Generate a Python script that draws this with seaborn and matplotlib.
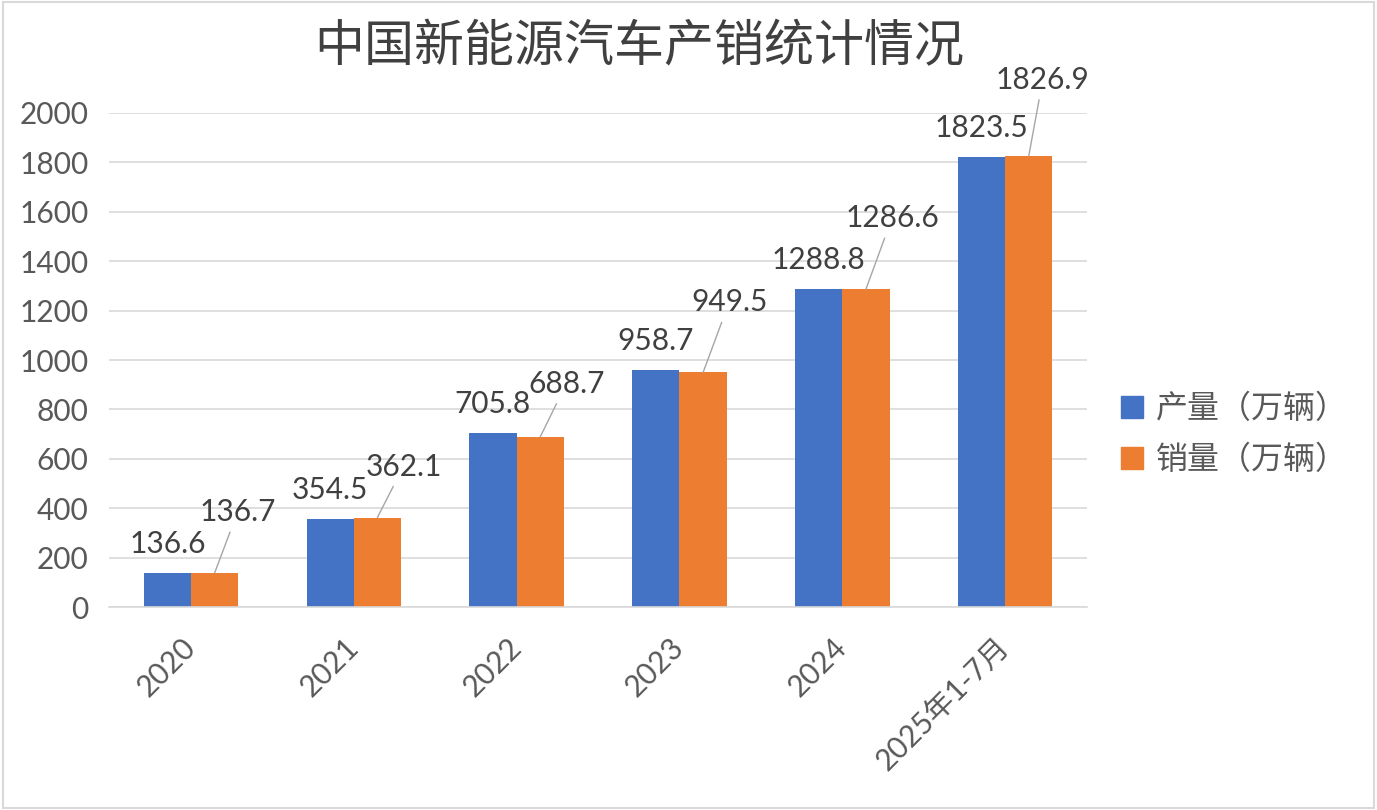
import numpy as np
import pandas as pd
import matplotlib
matplotlib.use("Agg")
import matplotlib.pyplot as plt
import seaborn as sns
from matplotlib.patches import Rectangle

# data
years = ["2020", "2021", "2022", "2023", "2024", "2025年1-7月"]
production = [136.6, 354.5, 705.8, 958.7, 1288.8, 1823.5]
sales = [136.7, 362.1, 688.7, 949.5, 1286.6, 1826.9]
series_names = ["产量（万辆）", "销量（万辆）"]
title = "中国新能源汽车产销统计情况"

# label offsets for the sales labels (pixels, right / up)
sales_offsets = [(23, 61), (26, 51), (26, 53), (26, 70), (26, 71), (14, 76)]

df = pd.DataFrame({
    "year": years * 2,
    "value": production + sales,
    "series": [series_names[0]] * len(years) + [series_names[1]] * len(years),
})

sns.set_style("white")
plt.rcParams['font.family'] = ['Lato', 'Noto Sans CJK SC', 'DejaVu Sans']

fig = plt.figure(figsize=(13.77, 8.10), dpi=100)
ax = fig.add_axes([0.0795, 0.2506, 0.7096, 0.6099])

sns.barplot(data=df, x="year", y="value", hue="series", hue_order=series_names,
            palette=["#4472C4", "#ED7D31"], width=0.58, gap=0, saturation=1,
            linewidth=0, ax=ax)

ax.set_ylim(0, 2000)
ax.set_yticks(np.arange(0, 2001, 200))
ax.yaxis.grid(True, color="#d9d9d9", lw=1.2)
ax.set_axisbelow(True)
for s in ["top", "right", "left"]:
    ax.spines[s].set_visible(False)
ax.spines["bottom"].set_color("#d9d9d9")
ax.spines["bottom"].set_linewidth(1.2)
ax.tick_params(axis="both", length=0, colors="#595959", labelsize=21.5)
ax.tick_params(axis="y", pad=15)
ax.tick_params(axis="x", pad=26)
ax.set_xlabel("")
ax.set_ylabel("")
for lab in ax.get_xticklabels():
    lab.set_rotation(45)
    lab.set_ha("right")
    lab.set_va("center")
    lab.set_rotation_mode("anchor")

pt = 72 / 100  # pixel -> point
bars_p, bars_s = ax.containers[0], ax.containers[1]
for bar, v in zip(bars_p, production):
    ax.annotate(f"{v:.1f}", (bar.get_x() + bar.get_width() / 2, bar.get_height()),
                xytext=(0, 29 * pt), textcoords="offset points",
                ha="center", va="center", fontsize=21.5, color="#404040")
for bar, v, (dx, dy) in zip(bars_s, sales, sales_offsets):
    ax.annotate(f"{v:.1f}", (bar.get_x() + bar.get_width() / 2, bar.get_height()),
                xytext=(dx * pt, dy * pt), textcoords="offset points",
                ha="center", va="center", fontsize=21.5, color="#404040",
                arrowprops=dict(arrowstyle="-", color="#a6a6a6", lw=1,
                                shrinkA=2, shrinkB=0))

ax.get_legend().remove()
handles = [Rectangle((0, 0), 1, 1, color=c) for c in ["#4472C4", "#ED7D31"]]
fig.legend(handles, series_names, loc="center left", bbox_to_anchor=(0.8025, 0.4635),
           frameon=False, labelcolor="#595959", borderpad=0,
           handlelength=0.7, handleheight=0.7, handletextpad=0.4, labelspacing=0.6,
           prop={"family": ["Noto Sans CJK SC"], "size": 23})

fig.text(0.464, 0.942, title, ha="center", va="center", fontsize=36, color="#404040",
         family=["Noto Sans CJK SC"])

fig.patches.append(Rectangle((0.002, 0.002), 0.996, 0.996, transform=fig.transFigure,
                             fill=False, edgecolor="#d9d9d9", lw=1.5))

fig.savefig("out.png", dpi=100)
